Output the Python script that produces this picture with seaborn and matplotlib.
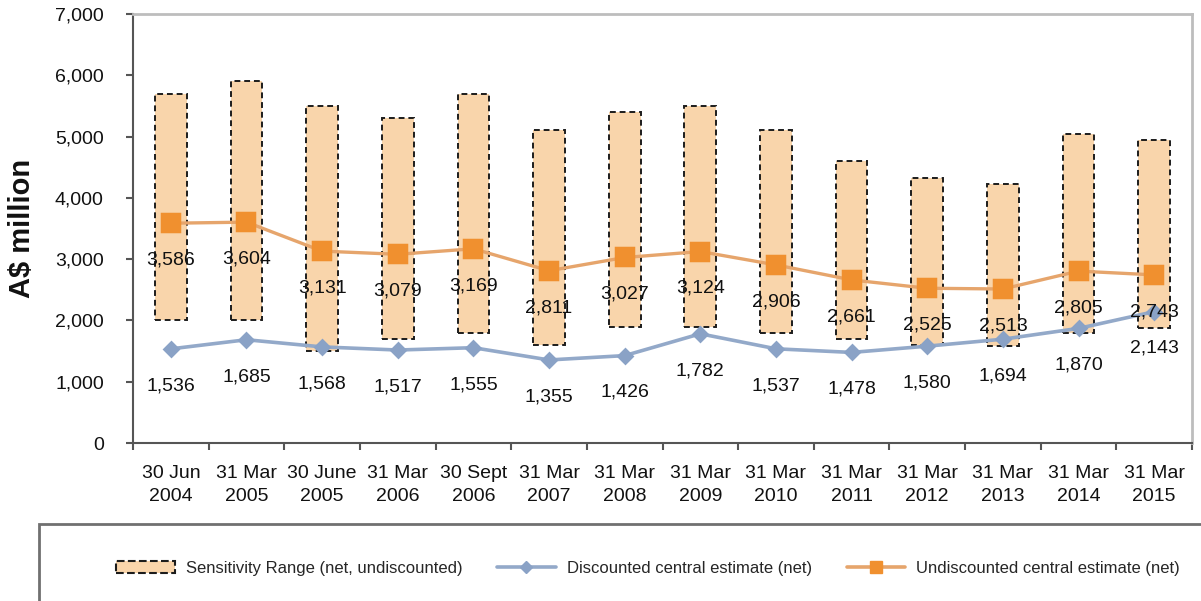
import numpy as np
import pandas as pd
import matplotlib
matplotlib.use("Agg")
import matplotlib.pyplot as plt
import seaborn as sns
from matplotlib.patches import Patch, Rectangle
from matplotlib.lines import Line2D
from matplotlib.ticker import FuncFormatter, FixedLocator

# Valuation dates
periods = ["30 Jun\n2004", "31 Mar\n2005", "30 June\n2005", "31 Mar\n2006",
           "30 Sept\n2006", "31 Mar\n2007", "31 Mar\n2008", "31 Mar\n2009",
           "31 Mar\n2010", "31 Mar\n2011", "31 Mar\n2012", "31 Mar\n2013",
           "31 Mar\n2014", "31 Mar\n2015"]

# Sensitivity range (net, undiscounted), A$ million
range_low = [2000, 2000, 1500, 1700, 1800, 1600, 1900, 1900, 1800, 1700, 1600, 1580, 1800, 1870]
range_high = [5700, 5900, 5500, 5300, 5700, 5100, 5400, 5500, 5100, 4600, 4330, 4230, 5050, 4950]

# Central estimates (net), A$ million
discounted = [1536, 1685, 1568, 1517, 1555, 1355, 1426, 1782, 1537, 1478, 1580, 1694, 1870, 2143]
undiscounted = [3586, 3604, 3131, 3079, 3169, 2811, 3027, 3124, 2906, 2661, 2525, 2513, 2805, 2743]

y_ticks = [0, 1000, 2000, 3000, 4000, 5000, 6000, 7000]

range_fill = "#F9D5AB"
blue_line = "#93A9C9"
blue_mark = "#8AA2C6"
orange_line = "#E6A56C"
orange_mark = "#F0902F"

sns.set_theme(style="white")
plt.rcParams["font.family"] = ["Liberation Sans", "DejaVu Sans"]

df = pd.DataFrame({
    "period": periods,
    "low": range_low,
    "high": range_high,
    "disc": discounted,
    "undisc": undiscounted,
})
df["span"] = df["high"] - df["low"]

fig = plt.figure(figsize=(12.01, 6.01), dpi=100)
ax = fig.add_axes([133 / 1201, 1 - 443 / 601, 1059 / 1201, 429 / 601])

# Floating range bars
sns.barplot(data=df, x="period", y="span", bottom=df["low"].to_numpy(),
            width=0.42, color=range_fill, saturation=1,
            edgecolor="#1c1c1c", linestyle=(0, (3, 2)), linewidth=1.4,
            ax=ax, zorder=2)

# Central estimate lines
sns.pointplot(data=df, x="period", y="disc", color=blue_line, markers="D",
              linestyles="-", errorbar=None, ax=ax, markersize=7.5,
              linewidth=2.6, markerfacecolor=blue_mark,
              markeredgecolor=blue_mark, zorder=4)
sns.pointplot(data=df, x="period", y="undisc", color=orange_line, markers="s",
              linestyles="-", errorbar=None, ax=ax, markersize=13,
              linewidth=2.4, markerfacecolor=orange_mark,
              markeredgecolor=orange_mark, zorder=5)

# Value labels below each marker
for i, (d, u) in enumerate(zip(discounted, undiscounted)):
    for v in (d, u):
        ax.annotate(f"{v:,}", (i, v), xytext=(0, -26.5), textcoords="offset points",
                    ha="center", va="center", fontsize=14, color="#111111", zorder=6)

ax.set_xlim(-0.5, len(periods) - 0.5)
ax.set_ylim(0, 7000)
ax.yaxis.set_major_locator(FixedLocator(y_ticks))
ax.yaxis.set_major_formatter(FuncFormatter(lambda v, p: f"{int(v):,}"))

ax.set_xticks(range(len(periods)), labels=periods, linespacing=1.45)
ax.xaxis.set_minor_locator(FixedLocator(np.arange(-0.5, len(periods), 1.0)))
ax.tick_params(axis="x", which="major", length=0, pad=16, labelsize=14, colors="#111111")
ax.tick_params(axis="x", which="minor", length=5, width=1.5, color="#555555", direction="out", bottom=True)
ax.tick_params(axis="y", which="major", length=5, width=1.5, color="#555555", direction="out",
               left=True, labelsize=14, labelcolor="#111111", pad=16)

ax.set_xlabel("")
ax.set_ylabel("A$ million", fontsize=21, fontweight="bold", color="#111111")
ax.yaxis.set_label_coords(-0.092, 0.5)

for side in ("left", "bottom"):
    ax.spines[side].set_color("#555555")
    ax.spines[side].set_linewidth(1.5)
for side in ("top", "right"):
    ax.spines[side].set_color("#BDBDBD")
    ax.spines[side].set_linewidth(2)

# Legend panel
fig.add_artist(Rectangle((39 / 1201, -0.1), 1.2, 0.1 + (601 - 524) / 601,
                         transform=fig.transFigure, fill=False,
                         edgecolor="#707070", linewidth=2))
handles = [
    Patch(facecolor=range_fill, edgecolor="#1c1c1c", linestyle="--", linewidth=1.5),
    Line2D([], [], color=blue_line, lw=2.6, marker="D", markersize=6,
           markerfacecolor=blue_mark, markeredgecolor=blue_mark),
    Line2D([], [], color=orange_line, lw=2.6, marker="s", markersize=9,
           markerfacecolor=orange_mark, markeredgecolor=orange_mark),
]
labels = ["Sensitivity Range (net, undiscounted)",
          "Discounted central estimate (net)",
          "Undiscounted central estimate (net)"]
fig.legend(handles, labels, loc="center", bbox_to_anchor=(648 / 1201, 1 - 568 / 601),
           ncol=3, frameon=False, fontsize=12, handlelength=3.5,
           columnspacing=2.1, handletextpad=0.66)

fig.savefig("out.png", dpi=100, facecolor="white")
